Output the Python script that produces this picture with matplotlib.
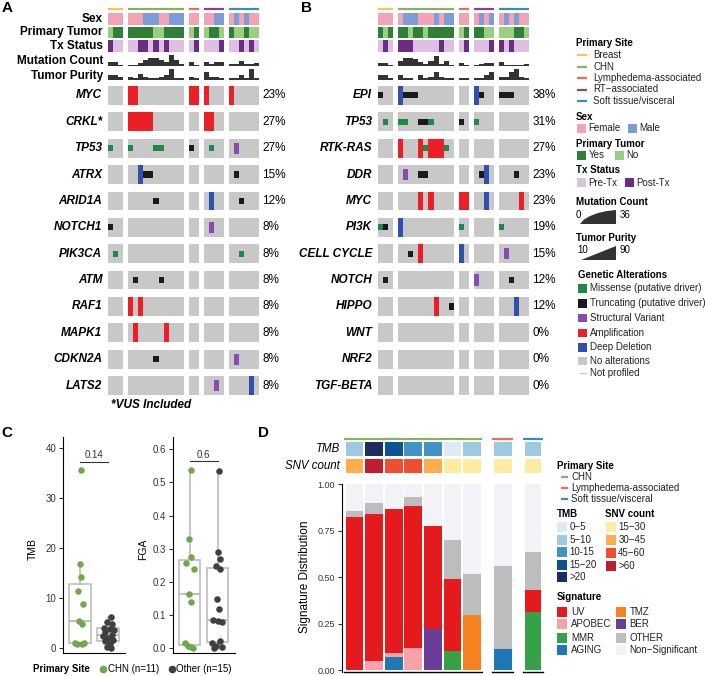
import numpy as np
import matplotlib.pyplot as plt
from matplotlib.patches import Rectangle, Polygon

plt.rcParams['font.family'] = ['Liberation Sans', 'DejaVu Sans']
plt.rcParams['axes.unicode_minus'] = False

W, H = 705, 676

# ---------------- data : oncoprints (A, B) ----------------
sites = ['Breast', 'CHN', 'Lymphedema-associated', 'RT\u2212associated', 'Soft tissue/visceral']
site_colors = ['#F3C55B', '#8BAF5E', '#EC6D55', '#8C3F8D', '#3B8BB9']
site_sizes = [3, 11, 2, 4, 6]

sex_A = 'FFF FFFMMMFFMMM FF FFMM FMFMFF'
tumor_A = 'NYY YYYYYNNYYYY NY NYYN YNNYNN'
tx_A = '100 00110101000 01 0001 001010'
mutcount_A = [12, 12, 3, 2, 3, 8, 18, 22, 22, 18, 12, 32, 18, 6, 12, 3, 12, 6, 12, 12, 6, 6, 15, 6, 6, 9]
purity_A = [37, 37, 30, 30, 17, 50, 30, 17, 17, 30, 37, 77, 23, 23, 30, 17, 63, 30, 30, 23, 23, 23, 43, 23, 77, 23]

sex_B = 'FFF FMMMFFFMFMM FF FMFM FMFMFF'
tumor_B = 'YNY YYNYYNYYYYY NY YYNN NNNYYN'
tx_B = '010 11100000100 01 0001 101000'
mutcount_B = [9, 9, 2, 15, 24, 24, 21, 12, 6, 15, 30, 6, 15, 3, 9, 2, 3, 6, 9, 9, 12, 3, 3, 3, 3, 6]
purity_B = [37, 37, 23, 43, 23, 23, 10, 37, 23, 30, 57, 30, 17, 17, 23, 17, 23, 23, 37, 57, 30, 30, 57, 77, 30, 17]

genes_A = ['MYC', 'CRKL*', 'TP53', 'ATRX', 'ARID1A', 'NOTCH1', 'PIK3CA', 'ATM', 'RAF1', 'MAPK1', 'CDKN2A', 'LATS2']
alts_A = {
    'MYC': {'amp': [3, 4, 14, 15, 16, 20]},
    'CRKL*': {'amp': [3, 4, 5, 6, 7, 16, 17]},
    'TP53': {'mis': [0, 3, 8, 9, 17], 'trunc': [14], 'sv': [21]},
    'ATRX': {'del': [5], 'trunc': [6, 7, 21]},
    'ARID1A': {'trunc': [8, 22], 'del': [17]},
    'NOTCH1': {'trunc': [0], 'sv': [17]},
    'PIK3CA': {'mis': [1, 22]},
    'ATM': {'trunc': [4, 9]},
    'RAF1': {'amp': [3, 5]},
    'MAPK1': {'amp': [4, 10]},
    'CDKN2A': {'trunc': [8], 'sv': [21]},
    'LATS2': {'sv': [18], 'del': [24]},
}

genes_B = ['EPI', 'TP53', 'RTK-RAS', 'DDR', 'MYC', 'PI3K', 'CELL CYCLE', 'NOTCH', 'HIPPO', 'WNT', 'NRF2', 'TGF-BETA']
alts_B = {
    'EPI': {'del': [3, 16], 'trunc': [0, 4, 5, 6, 17, 20, 21, 22]},
    'TP53': {'mis': [1, 3, 4, 9, 16], 'trunc': [7, 8, 14]},
    'RTK-RAS': {'amp': [3, 7, 9, 10, 11], 'mis': [8, 12]},
    'DDR': {'sv': [4], 'trunc': [7, 8, 17, 23], 'del': [18]},
    'MYC': {'amp': [7, 9, 14, 15, 24], 'del': [18]},
    'PI3K': {'mis': [0, 14, 20], 'trunc': [1], 'del': [3]},
    'CELL CYCLE': {'trunc': [5], 'amp': [7], 'del': [14], 'sv': [21]},
    'NOTCH': {'trunc': [1, 22], 'sv': [16]},
    'HIPPO': {'amp': [10], 'trunc': [13], 'del': [23]},
    'WNT': {},
    'NRF2': {},
    'TGF-BETA': {},
}

sex_colors = {'F': '#F4A3B6', 'M': '#7B9CD6'}
tumor_colors = {'Y': '#2F7F38', 'N': '#99CF7E'}
tx_colors = {'0': '#DDC0E1', '1': '#6B2D83'}
alt_colors = {'amp': '#EC1F26', 'del': '#3050AE', 'sv': '#8B4BAE', 'mis': '#1B8A42', 'trunc': '#1A1A1A'}
alt_heights = {'amp': 1.0, 'del': 1.0, 'sv': 0.6, 'mis': 0.33, 'trunc': 0.33}
n_samples = sum(site_sizes)

# ---------------- data : panel C ----------------
tmb_chn = [35.7, 16.9, 14.2, 11.5, 8.9, 5.5, 4.9, 1.0, 1.0, 0.9, 0.9]
tmb_chn_dx = [0.03, 0.0, 0.03, -0.07, 0.12, -0.03, 0.06, -0.18, 0.14, -0.10, 0.06]
tmb_other = [6.2, 5.3, 4.8, 4.1, 3.9, 3.6, 3.2, 2.7, 2.4, 2.0, 1.6, 1.4, 0.9, 0.3, 0.0]
tmb_other_dx = [0.1, -0.05, 0.15, -0.15, 0.05, 0.2, -0.1, 0.12, -0.2, 0.0, 0.18, -0.12, 0.08, -0.05, 0.1]
fga_chn = [0.537, 0.329, 0.276, 0.258, 0.240, 0.164, 0.140, 0.015, 0.008, 0.005, 0.0]
fga_chn_dx = [0.06, -0.03, 0.04, -0.12, 0.15, -0.03, 0.04, -0.16, -0.06, 0.06, 0.12]
fga_other = [0.533, 0.289, 0.268, 0.248, 0.238, 0.148, 0.117, 0.085, 0.082, 0.080, 0.022, 0.015, 0.008, 0.003, 0.0]
fga_other_dx = [0.03, 0.0, 0.07, -0.06, 0.09, -0.03, 0.03, -0.16, 0.02, 0.16, 0.09, -0.2, -0.05, 0.16, -0.13]
p_tmb, p_fga = '0.14', '0.6'
chn_color, other_color = '#71A84D', '#3F3F3F'

# ---------------- data : panel D ----------------
d_site = ['CHN'] * 7 + ['Lymphedema-associated', 'Soft tissue/visceral']
d_tmb = ['5-10', '>20', '15-20', '10-15', '10-15', '0-5', '5-10', '5-10', '5-10']
d_snv = ['30-45', '>60', '45-60', '45-60', '30-45', '15-30', '15-30', '15-30', '15-30']
sig_names = ['AGING', 'MMR', 'APOBEC', 'BER', 'TMZ', 'UV', 'OTHER']
AGING = [0, 0, 0.07, 0, 0, 0, 0, 0.113, 0]
MMR = [0, 0, 0, 0, 0, 0.104, 0, 0, 0.314]
APOBEC = [0, 0.048, 0.023, 0.117, 0, 0, 0, 0, 0]
BER = [0, 0, 0, 0, 0.219, 0, 0, 0, 0]
TMZ = [0, 0, 0, 0, 0, 0, 0.296, 0, 0]
UV = [0.824, 0.791, 0.771, 0.765, 0.555, 0.383, 0, 0, 0.116]
OTHER = [0.033, 0.061, 0, 0.05, 0, 0.212, 0.218, 0.446, 0.203]

sig_colors = {'UV': '#E41A1C', 'APOBEC': '#F5A3A8', 'MMR': '#36A146', 'AGING': '#1F78B4',
              'TMZ': '#F5821F', 'BER': '#6A3D9A', 'OTHER': '#BDBCBF', 'Non\u2212Significant': '#F2F3F6'}
tmb_colors = {'0-5': '#DEEBF7', '5-10': '#9ECAE1', '10-15': '#4292C6', '15-20': '#0B5394', '>20': '#1D2D62'}
snv_colors = {'15-30': '#FEEDA0', '30-45': '#FDAD4D', '45-60': '#F04E30', '>60': '#BE1E2D'}
d_site_colors = {'CHN': '#8BAF5E', 'Lymphedema-associated': '#EC6D55', 'Soft tissue/visceral': '#3B8BB9'}

# ---------------- figure ----------------
fig = plt.figure(figsize=(W / 100, H / 100), dpi=100)


def px_axes(x0, y0, x1, y1):
    return fig.add_axes([x0 / W, 1 - y1 / H, (x1 - x0) / W, (y1 - y0) / H])


ov = fig.add_axes([0, 0, 1, 1])
ov.set_xlim(0, W)
ov.set_ylim(H, 0)
ov.axis('off')
ov.patch.set_visible(False)

# sample positions with one empty column between primary sites
pos = []
group_start = []
start = 0
for n in site_sizes:
    group_start.append(start)
    pos.extend(range(start, start + n))
    start += n + 1
pos = np.array(pos)
CW = 5.02   # pixels per column


def oncoprint(x0, genes, alts, sex, tumor, tx, mut, pur):
    x1 = x0 + 30 * CW
    ax = px_axes(x0, 13.3, x1, 51.7)
    ax.set_xlim(0, 30)
    ax.set_ylim(2.875, 0)
    ax.axis('off')
    for s, n, c in zip(group_start, site_sizes, site_colors):
        ax.plot([s, s + n], [-0.33, -0.33], color=c, lw=1.6,
                solid_capstyle='butt', clip_on=False)
    tracks = [(sex, sex_colors), (tumor, tumor_colors), (tx, tx_colors)]
    for r, (vals, cmap) in enumerate(tracks):
        for p, v in zip(pos, vals.replace(' ', '')):
            ax.add_patch(Rectangle((p, r), 1.0, 0.875, color=cmap[v], lw=0, antialiased=False))

    axm = px_axes(x0, 53.5, x1, 65.5)
    axm.bar(pos, mut, width=1.0, align='edge', color='#333333', lw=0, antialiased=False)
    axm.set_xlim(0, 30)
    axm.set_ylim(0, 36)
    axm.axis('off')

    axp = px_axes(x0, 67.5, x1, 79.5)
    axp.bar(pos, np.array(pur) - 10, bottom=10, width=1.0, align='edge', color='#333333', lw=0,
            antialiased=False)
    axp.set_xlim(0, 30)
    axp.set_ylim(10, 90)
    axp.axis('off')

    axg = px_axes(x0, 86, x1, 395)
    axg.set_xlim(0, 30)
    axg.set_ylim(11.71, 0)
    axg.axis('off')
    rowh = 0.71
    for i, g in enumerate(genes):
        for s, n in zip(group_start, site_sizes):
            axg.add_patch(Rectangle((s, i), n, rowh, color='#C8C8C8', lw=0))
        hit = set()
        for kind in ['amp', 'del', 'sv', 'mis', 'trunc']:
            for c in alts[g].get(kind, []):
                h = alt_heights[kind] * rowh
                axg.add_patch(Rectangle((pos[c], i + (rowh - h) / 2), 1.0, h,
                                        color=alt_colors[kind], lw=0, antialiased=False))
                hit.add(c)
        pct = round(100 * len(hit) / n_samples)
        axg.text(-1.2, i + rowh / 2, g, ha='right', va='center', fontsize=8.5,
                 weight='bold', style='italic')
        axg.text(30.7, i + rowh / 2, '%d%%' % pct, ha='left', va='center', fontsize=8.5)
    return axg


axA = oncoprint(108.3, genes_A, alts_A, sex_A, tumor_A, tx_A, mutcount_A, purity_A)
axB = oncoprint(378.3, genes_B, alts_B, sex_B, tumor_B, tx_B, mutcount_B, purity_B)

for lab, y in zip(['Sex', 'Primary Tumor', 'Tx Status', 'Mutation Count', 'Tumor Purity'],
                  [19.2, 32.5, 46, 61.5, 75.8]):
    ov.text(103, y, lab, ha='right', va='center', fontsize=8.5, weight='bold')
ov.text(111, 405, '*VUS Included', ha='left', va='center', fontsize=8.5, weight='bold', style='italic')

# panel letters
for lab, x, y in [('A', 1.5, 8.5), ('B', 301.5, 8.5), ('C', 1.5, 433), ('D', 258, 433)]:
    ov.text(x, y, lab, ha='left', va='center', fontsize=11, weight='bold')

# ---------------- legend A/B ----------------
LF = 7


def leg_title(x, y, s):
    ov.text(x, y, s, fontsize=LF, weight='bold', ha='left', va='center')


def leg_box(x, y, c, s, size=9, tx=None):
    ov.add_patch(Rectangle((x, y - size / 2), size, size, color=c, lw=0))
    ov.text(x + size + 2.5 if tx is None else tx, y, s, fontsize=LF, ha='left', va='center', color='#222222')


def leg_line(x, y, c, s, ln=10, tx=None):
    ov.plot([x, x + ln], [y, y], color=c, lw=1.6, solid_capstyle='butt')
    ov.text(x + ln + 6 if tx is None else tx, y, s, fontsize=LF, ha='left', va='center', color='#222222')


leg_title(575.5, 42.7, 'Primary Site')
for s, c, y in zip(sites, site_colors, [55, 66.5, 78, 89.5, 101]):
    leg_line(577, y, c, s, tx=593)
leg_title(575.5, 117.3, 'Sex')
leg_box(577, 128.3, sex_colors['F'], 'Female')
leg_box(627.7, 128.3, sex_colors['M'], 'Male')
leg_title(575.5, 144, 'Primary Tumor')
leg_box(577, 155, tumor_colors['Y'], 'Yes')
leg_box(615, 155, tumor_colors['N'], 'No')
leg_title(575.5, 170, 'Tx Status')
leg_box(577, 182.7, tx_colors['0'], 'Pre-Tx')
leg_box(625, 182.7, tx_colors['1'], 'Post-Tx')
leg_title(575.5, 201.7, 'Mutation Count')
ov.add_patch(Polygon([(580, 224), (584, 219.5), (590, 216), (598, 213), (607, 211), (616, 210), (616, 224)],
                     closed=True, color='#333333', lw=0))
ov.text(578.5, 214.5, '0', fontsize=LF, ha='center', va='center')
ov.text(620, 214.5, '36', fontsize=LF, ha='left', va='center')
leg_title(576.5, 238, 'Tumor Purity')
ov.add_patch(Polygon([(581, 260), (616, 246), (616, 260)], closed=True, color='#333333', lw=0))
ov.text(577, 250, '10', fontsize=LF, ha='left', va='center')
ov.text(620, 250, '90', fontsize=LF, ha='left', va='center')
leg_title(578.5, 275, 'Genetic Alterations')
ga_labels = ['Missense (putative driver)', 'Truncating (putative driver)', 'Structural Variant',
             'Amplification', 'Deep Deletion', 'No alterations']
ga_colors = [alt_colors['mis'], alt_colors['trunc'], alt_colors['sv'], alt_colors['amp'],
             alt_colors['del'], '#C8C8C8']
for s, c, y in zip(ga_labels, ga_colors, [288.3, 303.3, 318, 333, 347.3, 360.7]):
    leg_box(578.3, y, c, s, size=8.4, tx=590)
ov.plot([580, 585.7], [373, 373], color='#BBBBBB', lw=0.8)
ov.text(590, 373, 'Not profiled', fontsize=LF, ha='left', va='center', color='#222222')

# ---------------- panel C ----------------


def style_c(ax, ylim, yticks, ylabels):
    ax.set_xlim(0.4, 2.6)
    ax.set_ylim(*ylim)
    ax.set_yticks(yticks)
    ax.set_yticklabels(ylabels)
    ax.set_xticks([])
    for sp in ['top', 'right']:
        ax.spines[sp].set_visible(False)
    for sp in ['left', 'bottom']:
        ax.spines[sp].set_linewidth(0.8)
    ax.tick_params(axis='y', labelsize=7, length=3, width=0.8, colors='#333333', pad=2)
    ax.patch.set_visible(False)


def box_points(ax, groups, dxs, width):
    ax.boxplot(groups, positions=[1, 2], widths=width, showfliers=False, patch_artist=True,
               boxprops=dict(facecolor='none', edgecolor='#BDBDBD', lw=1.2),
               whiskerprops=dict(color='#BDBDBD', lw=1.2),
               capprops=dict(lw=0),
               medianprops=dict(color='#BDBDBD', lw=1.4))
    for k, (vals, dx, c) in enumerate(zip(groups, dxs, [chn_color, other_color])):
        ax.scatter(np.array(dx) + k + 1, vals, s=22, color=c, lw=0, zorder=3)


axT = px_axes(63.3, 437, 125, 653.3)
box_points(axT, [tmb_chn, tmb_other], [tmb_chn_dx, tmb_other_dx], 0.8)
style_c(axT, (-1, 42.26), [0, 10, 20, 30, 40], ['0', '10', '20', '30', '40'])
axT.plot([1, 2], [37.3, 37.3], color='#333333', lw=0.8)
axT.text(1.5, 37.7, p_tmb, ha='center', va='bottom', fontsize=7, color='#333333')
ov.text(33.3, 549, 'TMB', rotation=90, ha='center', va='center', fontsize=7.5)

axF = px_axes(173, 437, 234.5, 653.3)
box_points(axF, [fga_chn, fga_other], [fga_chn_dx, fga_other_dx], 0.75)
style_c(axF, (-0.015, 0.6365), [0, 0.1, 0.2, 0.3, 0.4, 0.5, 0.6],
        ['0.0', '0.1', '0.2', '0.3', '0.4', '0.5', '0.6'])
axF.plot([1, 2], [0.563, 0.563], color='#333333', lw=0.8)
axF.text(1.5, 0.566, p_fga, ha='center', va='bottom', fontsize=7, color='#333333')
ov.text(143.3, 549, 'FGA', rotation=90, ha='center', va='center', fontsize=7.5)

ov.text(33, 669.3, 'Primary Site', ha='left', va='center', fontsize=7, weight='bold')
ov.plot(103.3, 669.3, 'o', ms=5.5, color=chn_color, mec='none')
ov.text(107.5, 669.3, 'CHN (n=%d)' % len(tmb_chn), ha='left', va='center', fontsize=7)
ov.plot(171.7, 669.3, 'o', ms=5.5, color=other_color, mec='none')
ov.text(176.5, 669.3, 'Other (n=%d)' % len(tmb_other), ha='left', va='center', fontsize=7)

# ---------------- panel D ----------------
facets = ['CHN', 'Lymphedema-associated', 'Soft tissue/visceral']
facet_px = [(344.3, 481.7), (492.3, 513.3), (523.3, 542.7)]
sig_table = {'AGING': AGING, 'MMR': MMR, 'APOBEC': APOBEC, 'BER': BER, 'TMZ': TMZ, 'UV': UV, 'OTHER': OTHER}
for f, (fx0, fx1) in zip(facets, facet_px):
    idx = [i for i, s in enumerate(d_site) if s == f]
    ax = px_axes(fx0, 484, fx1, 671.7)
    n = len(idx)
    if n == 1:
        ax.set_xlim(0.465, 1.535)
    else:
        ax.set_xlim(0.48, n + 0.49)
    ax.set_ylim(-0.009, 1.0)
    xs = np.arange(1, n + 1)
    bottom = np.zeros(n)
    for name in sig_names:
        vals = np.array([sig_table[name][i] for i in idx])
        ax.bar(xs, vals, bottom=bottom, width=0.9, color=sig_colors[name], lw=0)
        bottom += vals
    ax.bar(xs, 1 - bottom, bottom=bottom, width=0.9, color=sig_colors['Non\u2212Significant'], lw=0)
    for x, i in zip(xs, idx):
        ax.add_patch(Rectangle((x - 0.45, 1.1525), 0.9, 0.075, color=tmb_colors[d_tmb[i]],
                               lw=0, clip_on=False))
        ax.add_patch(Rectangle((x - 0.45, 1.0575), 0.9, 0.0755, color=snv_colors[d_snv[i]],
                               lw=0, clip_on=False))
    lo, hi = ax.get_xlim()
    ax.plot([lo, hi], [1.242, 1.242], color=d_site_colors[f], lw=1.6, clip_on=False,
            solid_capstyle='butt')
    ax.set_xticks([])
    for sp in ['top', 'right']:
        ax.spines[sp].set_visible(False)
    ax.spines['bottom'].set_linewidth(1.0)
    ax.patch.set_visible(False)
    if f == 'CHN':
        ax.spines['left'].set_linewidth(0.8)
        ax.spines['left'].set_position(('outward', 1.5))
        ax.set_yticks([0, 0.25, 0.5, 0.75, 1.0])
        ax.set_yticklabels(['0.00', '0.25', '0.50', '0.75', '1.00'])
        ax.tick_params(axis='y', labelsize=6.5, length=3, width=0.8, colors='#333333', pad=2)
    else:
        ax.spines['left'].set_visible(False)
        ax.set_yticks([])

ov.text(340, 448.7, 'TMB', ha='right', va='center', fontsize=8.3, style='italic')
ov.text(340, 466.3, 'SNV count', ha='right', va='center', fontsize=8.3, style='italic')
ov.text(305, 577, 'Signature Distribution', rotation=90, ha='center', va='center', fontsize=8.5)

# legend D
leg_title(556.7, 465.7, 'Primary Site')
for f, y in zip(facets, [476.7, 487.7, 499]):
    leg_line(560.5, y, d_site_colors[f], f, ln=7.5, tx=571)
leg_title(556.7, 514, 'TMB')
for (k, c), y in zip(tmb_colors.items(), [527.3, 539.7, 552.3, 565, 577.3]):
    lab = k.replace('-', '\u2212') if k != '10-15' else k
    leg_box(557.3, y, c, lab, size=10, tx=569.3)
leg_title(605, 514, 'SNV count')
for (k, c), y in zip(snv_colors.items(), [527.3, 540.3, 553, 566]):
    leg_box(606, y, c, k.replace('-', '\u2212'), size=10, tx=618.3)
leg_title(556.7, 596.7, 'Signature')
sig_leg = ['UV', 'APOBEC', 'MMR', 'AGING', 'TMZ', 'BER', 'OTHER', 'Non\u2212Significant']
for k, s in enumerate(sig_leg):
    y = [611.7, 624.3, 637.7, 650.3][k % 4]
    if k < 4:
        leg_box(557.3, y, sig_colors[s], s, size=10, tx=571)
    else:
        leg_box(615.7, y, sig_colors[s], s, size=10, tx=629.3)

fig.savefig('out.png', dpi=100)
